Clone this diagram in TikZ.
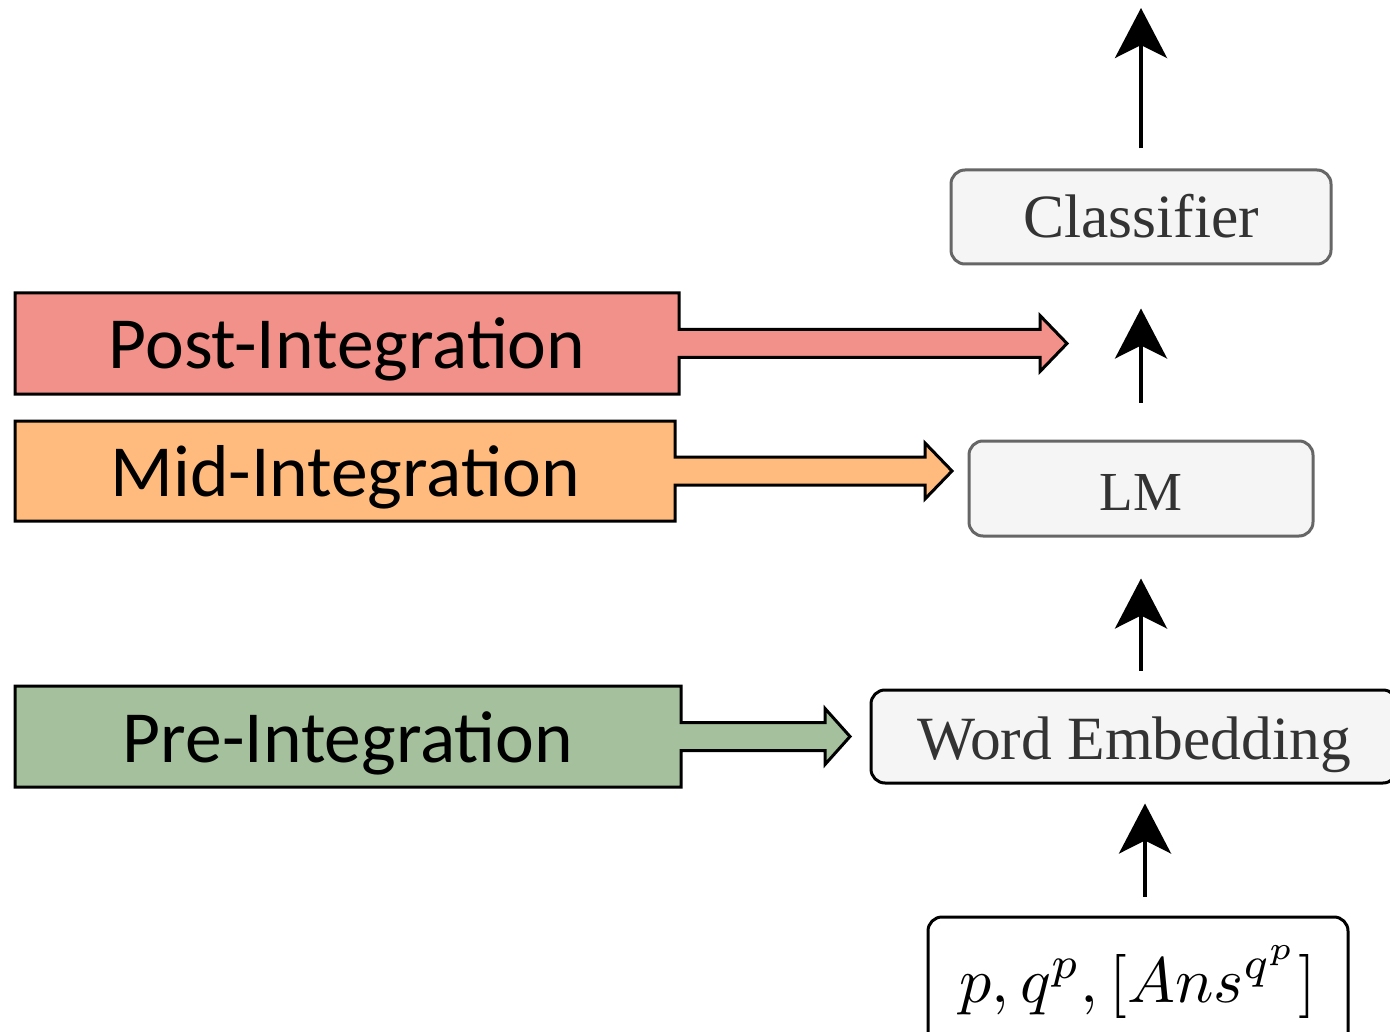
\RequirePackage{fix-cm}
\documentclass[tikz,border=0pt]{standalone}
\usepackage{fontspec}
\usepackage{amsmath,graphicx}
\newfontfamily\labfont{Carlito}
\newfontfamily\boxfont{Liberation Serif}
\usetikzlibrary{arrows.meta,calc,backgrounds}

\definecolor{postred}{RGB}{242,145,138}
\definecolor{midorange}{RGB}{255,187,125}
\definecolor{pregreen}{RGB}{165,192,156}
\definecolor{boxfill}{RGB}{245,245,245}
\definecolor{boxgray}{RGB}{102,102,102}
\definecolor{textgray}{RGB}{51,51,51}

% Outline of a stage box merged with its block arrow; #1 node, #2 head base x, #3 tip x, #4 fill
\newcommand{\stagearrow}[4]{%
  \filldraw[stageline, fill=#4] let \p1=(#1.east) in
    (#1.north west) -- (#1.north east) -- (\x1,\y1+14pt) -- (#2pt,\y1+14pt)
    -- (#2pt,\y1+28pt) -- (#3pt,\y1) -- (#2pt,\y1-28pt) -- (#2pt,\y1-14pt)
    -- (\x1,\y1-14pt) -- (#1.south east) -- (#1.south west) -- cycle;
}

\begin{document}
\begin{tikzpicture}[x=1pt,y=-1pt,
  stagebox/.style={inner sep=0pt, outer sep=0pt, font=\labfont\fontsize{73.5}{88}\selectfont,
    text=black, text height=51pt, text depth=0pt},
  stageline/.style={draw=black, line width=3pt, line join=miter},
  flatbox/.style={draw=boxgray, line width=3pt, rounded corners=14pt, fill=boxfill, inner sep=0pt,
    font=\boxfont\fontsize{61.5}{72}\selectfont, text=textgray, text height=42pt, text depth=0pt},
  up/.style={line width=4pt, -{Stealth[length=50pt,width=52pt,inset=13pt]}}]
\useasboundingbox (0,0) rectangle (1390,1032);

% stage labels with their block arrows
\node[stagebox, minimum width=664pt, minimum height=101pt] (post) at (347,343.5) {Post-Integration};
\node[stagebox, minimum width=660pt, minimum height=100pt] (mid) at (345,471) {Mid-Integration};
\node[stagebox, minimum width=666pt, minimum height=101pt] (pre) at (348,736.5) {Pre-Integration};
\begin{scope}[on background layer]
  \stagearrow{post}{1040}{1067}{postred}
  \stagearrow{mid}{925}{952}{midorange}
  \stagearrow{pre}{825}{850}{pregreen}
\end{scope}

% model pipeline
\node[flatbox, minimum width=380pt, minimum height=94pt] (cls) at (1141,217) {Classifier};
\node[flatbox, minimum width=344pt, minimum height=95pt, font=\boxfont\fontsize{55}{66}\selectfont,
  text height=43pt] (lm) at (1141,488.5) {LM};
\node[flatbox, draw=black, minimum width=526pt, minimum height=93pt, text height=46pt] (we) at (1134,736.5) {Word Embedding};
\node[draw=black, line width=3pt, rounded corners=14pt, fill=white, inner sep=0pt,
  minimum width=420pt, minimum height=130pt] (inp) at (1138,982)
  {\scalebox{6.4}{$p, q^p, [Ans^{q^p}]$}};

\coordinate (out) at (1141,8);
\draw[up, shorten <=20pt] (cls.north) -- (out);
\draw[up, shorten <=37pt, shorten >=43pt] (lm.north) -- (cls.south);
\draw[up, shorten <=18pt, shorten >=41pt] (lm.south |- we.north) -- (lm.south);
\draw[up, shorten <=19pt, shorten >=19pt] ($(inp.north)+(7,0)$) -- ($(we.south -| inp.north)+(7,0)$);
\end{tikzpicture}
\end{document}
